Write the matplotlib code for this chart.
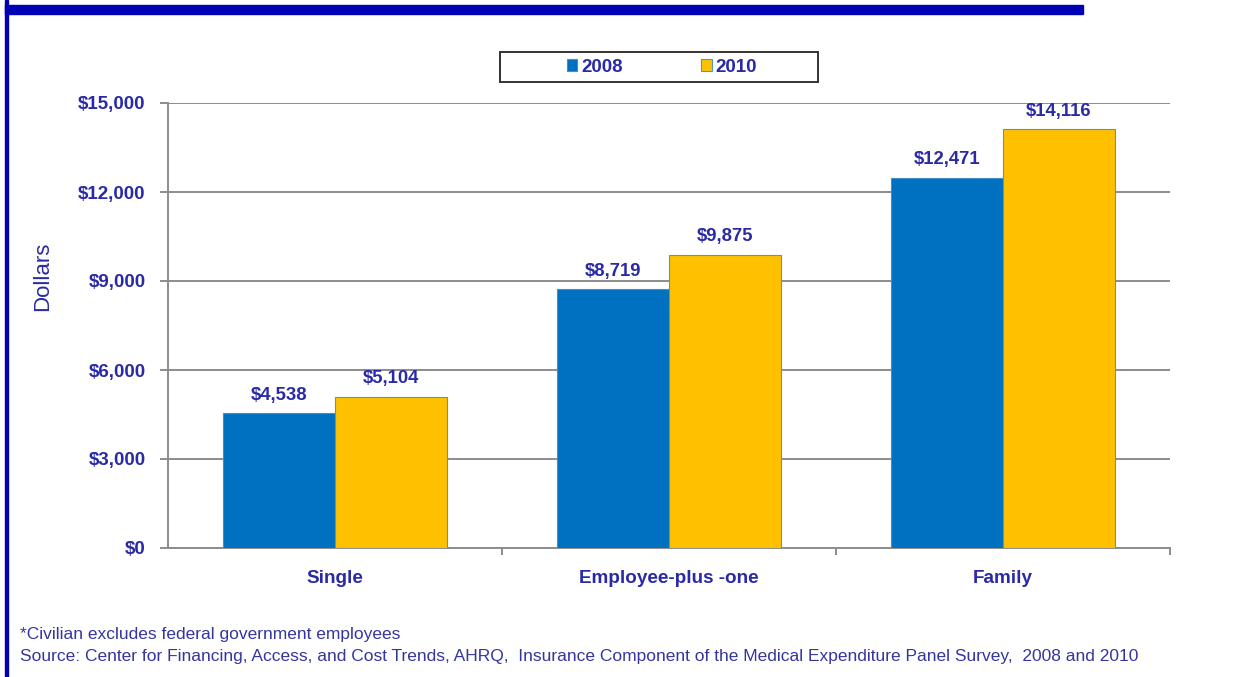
import matplotlib
matplotlib.use("Agg")
import matplotlib.pyplot as plt
import numpy as np
from matplotlib.patches import Rectangle
from matplotlib.ticker import FuncFormatter

categories = ["Single", "Employee-plus -one", "Family"]
series_names = ["2008", "2010"]
values_2008 = [4538, 8719, 12471]
values_2010 = [5104, 9875, 14116]
yticks = [0, 3000, 6000, 9000, 12000, 15000]

TXT = "#2A2AA6"
plt.rcParams['font.family'] = ['Liberation Sans', 'DejaVu Sans']

fig = plt.figure(figsize=(12.43, 6.77), dpi=100)
W, H = 1243, 677
ax = fig.add_axes([168 / W, 1 - 548 / H, (1170 - 168) / W, (548 - 103) / H])

x = np.arange(len(categories))
bw = 0.335
b1 = ax.bar(x - bw / 2, values_2008, bw, color="#0070C0", edgecolor="#3F8FC8", linewidth=0.8,
            label=series_names[0], zorder=3)
b2 = ax.bar(x + bw / 2, values_2010, bw, color="#FFC000", edgecolor="#4A9CC0", linewidth=0.8,
            label=series_names[1], zorder=3)

for bars, vals in ((b1, values_2008), (b2, values_2010)):
    for r, v in zip(bars, vals):
        ax.annotate(f"${v:,}", (r.get_x() + r.get_width() / 2, v), xytext=(0, 7),
                    textcoords="offset points", ha="center", va="bottom",
                    fontsize=13.3, fontweight="bold", color=TXT)

ax.set_xlim(-0.5, 2.5)
ax.set_ylim(0, 15000)
ax.set_yticks(yticks)
ax.yaxis.set_major_formatter(FuncFormatter(lambda v, p: f"${int(v):,}"))
ax.grid(axis="y", color="#8C8C8C", linewidth=1.4, zorder=0)
ax.set_axisbelow(True)

ax.set_xticks(x)
ax.set_xticklabels(categories)
ax.set_xticks([0.5, 1.5, 2.5], minor=True)
ax.tick_params(axis="x", which="major", length=0, pad=16, labelsize=13.6, labelcolor=TXT)
ax.tick_params(axis="x", which="minor", length=5, width=1.4, color="#8C8C8C", direction="out")
ax.tick_params(axis="y", length=6, width=1.4, color="#8C8C8C", pad=10, labelsize=13.5, labelcolor=TXT)
for lbl in ax.get_xticklabels() + ax.get_yticklabels():
    lbl.set_fontweight("bold")

for s in ("top", "right"):
    ax.spines[s].set_visible(False)
for s in ("left", "bottom"):
    ax.spines[s].set_color("#8C8C8C")
    ax.spines[s].set_linewidth(1.4)

# legend (frameless) plus a drawn box around it
leg = ax.legend(loc="center", bbox_to_anchor=((662 - 168) / 1002, (548 - 67) / 445), ncol=2,
                frameon=False, handlelength=0.55, handleheight=0.55, handletextpad=0.2,
                columnspacing=4.2, borderpad=0.2, fontsize=13.5)
for t in leg.get_texts():
    t.set_color(TXT)
    t.set_fontweight("bold")
fig.patches.append(Rectangle((500 / W, 1 - 82 / H), (818 - 500) / W, 30 / H,
                             transform=fig.transFigure, facecolor="none",
                             edgecolor="#333333", linewidth=1.4, zorder=1))

fig.text(43 / W, 1 - 276 / H, "Dollars", rotation=90, ha="center", va="center",
         fontsize=16, color=TXT)

foot_font = ['Liberation Sans Narrow', 'Liberation Sans', 'DejaVu Sans']
fig.text(20 / W, 1 - 634 / H, "*Civilian excludes federal government employees",
         ha="left", va="center", fontsize=12.5, color="#3535A0", family=foot_font)
fig.text(20 / W, 1 - 657 / H,
         "Source: Center for Financing, Access, and Cost Trends, AHRQ,  Insurance Component of the Medical Expenditure Panel Survey,  2008 and 2010",
         ha="left", va="center", fontsize=12.5, color="#3535A0", family=foot_font)

# decorative blue frame lines
fig.patches.append(Rectangle((5 / W, 0), 3 / W, 1, transform=fig.transFigure,
                             color="#0000B4", zorder=10))
fig.patches.append(Rectangle((5 / W, 1 - 14 / H), (1083 - 5) / W, 9 / H,
                             transform=fig.transFigure, color="#0000B4", zorder=10))

fig.savefig("out.png", dpi=100, facecolor="white")
